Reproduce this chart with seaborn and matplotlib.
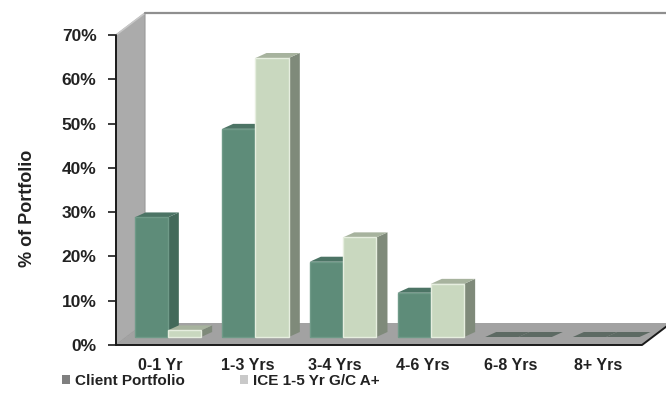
import matplotlib
matplotlib.use("Agg")
import matplotlib.pyplot as plt
from matplotlib import transforms
from matplotlib.patches import Polygon, Patch, Rectangle
from matplotlib.lines import Line2D
import numpy as np
import pandas as pd
import seaborn as sns

# Maturity buckets and the share of each portfolio in them (%)
categories = ["0-1 Yr", "1-3 Yrs", "3-4 Yrs", "4-6 Yrs", "6-8 Yrs", "8+ Yrs"]
client_portfolio = [27, 47, 17, 10, 0, 0]
ice_benchmark = [1.5, 63, 22.5, 12, 0, 0]
series_names = ["Client Portfolio", "ICE 1-5 Yr G/C A+"]
y_ticks = [0, 10, 20, 30, 40, 50, 60, 70]
y_tick_labels = ["0%", "10%", "20%", "30%", "40%", "50%", "60%", "70%"]

df = pd.DataFrame({
    "Maturity": categories * 2,
    "Share": client_portfolio + ice_benchmark,
    "Series": [series_names[0]] * len(categories) + [series_names[1]] * len(categories),
})

sns.set_theme(style="white")
plt.rcParams["font.family"] = ["Liberation Sans", "DejaVu Sans"]

DPI = 100
W, H = 666, 395
fig = plt.figure(figsize=(W / DPI, H / DPI), dpi=DPI)
fig.patch.set_facecolor("white")
# front plane of the 3-D box, in figure pixels
ax = fig.add_axes([116 / W, 50 / H, 526 / W, 310 / H])

front_colors = ["#5e8c79", "#c9d8bf"]
side_colors = ["#43695a", "#7f8a7a"]
top_colors = ["#4c7465", "#a7b39e"]
edge_colors = ["#6f9a88", "#e6eedf"]

sns.barplot(data=df, x="Maturity", y="Share", hue="Series", palette=front_colors,
            width=0.76, saturation=1, ax=ax, legend=False, linewidth=0)
ax.set_xlim(-0.5, len(categories) - 0.5)
ax.set_ylim(0, 70)
ax.set_facecolor("none")
bars = sorted([p for p in ax.patches if isinstance(p, Rectangle)], key=lambda p: p.get_x())

DEPTH = np.array([29.0, 22.0])      # full depth of floor / side wall (px)
FRONT = np.array([8.0, 8.0])        # bar front plane inside the box (px)
BAR_D = np.array([11.0, 5.0])       # depth of each bar (px)

fig.canvas.draw()
ident = transforms.IdentityTransform()


def px(x, y):
    return ax.transData.transform((x, y))


def add_poly(pts, z, **kw):
    ax.add_artist(Polygon(pts, closed=True, transform=ident, zorder=z,
                          clip_on=False, **kw))


def add_line(pts, z, **kw):
    xs, ys = zip(*pts)
    ax.add_artist(Line2D(xs, ys, transform=ident, zorder=z, clip_on=False, **kw))


x0, x1 = ax.get_xlim()
y0, y1 = ax.get_ylim()

# left side wall
add_poly([px(x0, y0), px(x0, y1), px(x0, y1) + DEPTH, px(x0, y0) + DEPTH], 0.5,
         facecolor="#ababab", edgecolor="#9a9a9a", linewidth=0.8)
add_line([px(x0, y1), px(x0, y1) + DEPTH], 0.55, color="#c8c8c8", linewidth=1.2)
# back wall top edge
add_line([px(x0, y1) + DEPTH, px(x1, y1) + DEPTH + [40, 0]], 0.55,
         color="#8f8f8f", linewidth=1.6)
# floor
add_poly([px(x0, y0), px(x1, y0), px(x1, y0) + DEPTH, px(x0, y0) + DEPTH], 0.6,
         facecolor="#a2a2a2", edgecolor="none")
add_line([px(x0, y0), px(x1, y0), px(x1, y0) + DEPTH], 0.65,
         color="#1a1a1a", linewidth=1.4)
# front vertical axis
add_line([px(x0, y0), px(x0, y1)], 0.65, color="#1a1a1a", linewidth=1.4)

# turn the flat bars into 3-D columns
front_shift = ax.transData + transforms.ScaledTranslation(FRONT[0] / DPI, FRONT[1] / DPI,
                                                          fig.dpi_scale_trans)
client_rgb = matplotlib.colors.to_rgb(front_colors[0])
n = len(categories)
for i, bar in enumerate(bars):
    k = 0 if np.allclose(bar.get_facecolor()[:3], client_rgb) else 1
    bx, bw, bh = bar.get_x(), bar.get_width(), bar.get_height()
    z = 2 + i * 0.01
    br = px(bx + bw, 0) + FRONT
    tl, tr = px(bx, bh) + FRONT, px(bx + bw, bh) + FRONT
    if bh > 0:
        add_poly([br, tr, tr + BAR_D, br + BAR_D], z,
                 facecolor=side_colors[k], edgecolor="none")
    add_poly([tl, tr, tr + BAR_D, tl + BAR_D], z + 0.001,
             facecolor=top_colors[k] if bh > 0 else "#5d6a63", edgecolor="none")
    if bh > 0:
        bar.set_transform(front_shift)
        bar.set_edgecolor(edge_colors[k])
        bar.set_linewidth(1.0)
        bar.set_zorder(z + 0.002)
        bar.set_clip_on(False)
    else:
        bar.set_visible(False)

# axes text
for s in ax.spines.values():
    s.set_visible(False)
ax.set_yticks(y_ticks)
ax.set_yticklabels(y_tick_labels, fontsize=12.5, fontweight="bold", color="#222222")
ax.tick_params(axis="y", length=6, width=1.2, color="#1a1a1a", pad=8, left=True)
ax.tick_params(axis="x", length=0, pad=9)
ax.set_xticks(range(n))
ax.set_xticklabels(categories, fontsize=11.5, fontweight="bold", color="#222222")
ax.set_xlabel("")
ax.set_ylabel("% of Portfolio", fontsize=13, fontweight="bold", color="#222222")
ax.yaxis.set_label_coords(-0.152, 0.44)

handles = [Patch(facecolor="#7f7f7f", edgecolor="none"),
           Patch(facecolor="#c9c9c9", edgecolor="none")]
fig.legend(handles, series_names, loc="center left", bbox_to_anchor=(48 / W, 14 / H),
           ncol=2, frameon=False, handlelength=0.55, handleheight=0.55,
           handletextpad=0.3, columnspacing=3.6,
           prop={"family": ["Liberation Sans"], "weight": "bold", "size": 11})
for t in fig.legends[0].get_texts():
    t.set_color("#222222")

fig.savefig("out.png", dpi=DPI, facecolor="white")
